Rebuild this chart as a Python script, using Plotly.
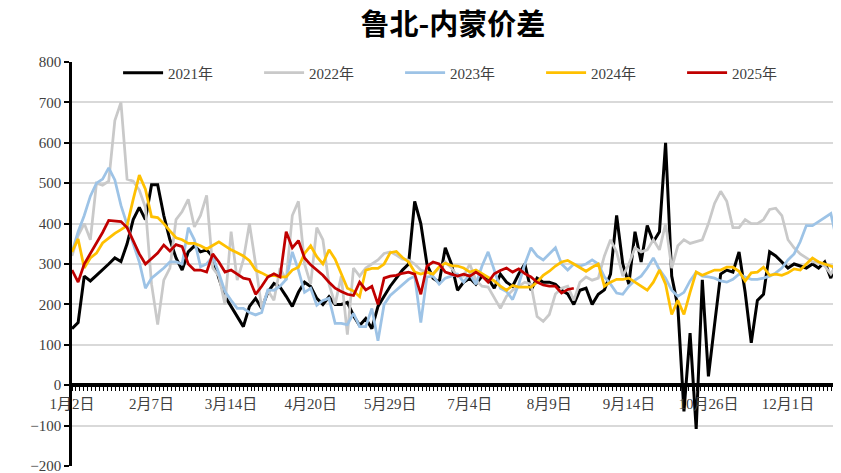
import plotly.graph_objects as go

# ---------------- data ----------------
tick_labels = ["1月2日", "2月7日", "3月14日", "4月20日", "5月29日",
               "7月4日", "8月9日", "9月14日", "10月26日", "12月1日"]
tick_days = [0, 26, 52, 78, 104, 130, 156, 182, 208, 234]
step_days = 2  # one reading every two trading days

y2021 = [140, 155, 270, 258, 272, 285, 300, 315, 306, 350, 410, 440, 410, 496, 496, 420, 360, 315, 285, 330,
         345, 330, 335, 318, 265, 220, 195, 170, 145, 195, 215, 190, 230, 252, 243, 220, 195, 230, 255, 244,
         215, 200, 219, 200, 200, 205, 172, 148, 165, 140, 195, 220, 245, 265, 285, 300, 455, 400, 300, 265,
         255, 340, 300, 235, 255, 265, 250, 270, 265, 240, 275, 255, 245, 275, 300, 235, 265, 255, 255, 250,
         235, 226, 200, 235, 240, 200, 225, 236, 275, 420, 300, 250, 380, 305, 395, 355, 380, 600, 270, 195,
         -65, 129, -108, 261, 22, 150, 275, 285, 280, 330, 230, 105, 210, 225, 330, 320, 305, 290, 300, 295,
         290, 300, 290, 305, 265, 310]
y2022 = [320, 370, 400, 360, 500, 495, 505, 655, 700, 510, 505, 483, 440, 250, 150, 260, 290, 410, 430, 460,
         392, 420, 470, 290, 270, 200, 380, 260, 310, 400, 300, 190, 235, 210, 290, 260, 420, 455, 300, 250,
         390, 360, 250, 200, 270, 125, 290, 270, 290, 300, 310, 326, 330, 322, 312, 310, 300, 285, 280, 275,
         290, 305, 290, 270, 270, 300, 260, 245, 243, 215, 190, 220, 235, 245, 255, 250, 170, 158, 175, 226,
         240, 245, 210, 255, 268, 260, 265, 320, 360, 330, 270, 300, 340, 330, 335, 360, 335, 400, 290, 345,
         360, 351, 355, 360, 400, 450, 480, 455, 390, 390, 410, 400, 400, 410, 435, 438, 420, 360, 340, 325,
         315, 305, 305, 295, 275, 300]
y2023 = [330, 380, 420, 468, 500, 510, 538, 508, 445, 395, 350, 305, 240, 265, 277, 290, 305, 305, 300, 390,
         360, 293, 300, 318, 277, 232, 210, 190, 190, 180, 174, 180, 236, 235, 245, 262, 330, 285, 230, 240,
         198, 210, 215, 153, 153, 150, 178, 145, 145, 190, 110, 200, 222, 236, 248, 262, 270, 155, 268, 270,
         250, 265, 270, 275, 255, 275, 250, 295, 330, 285, 240, 232, 212, 250, 300, 340, 320, 310, 325, 340,
         300, 285, 300, 295, 300, 310, 300, 268, 250, 228, 225, 245, 260, 270, 290, 315, 286, 265, 235, 220,
         230, 258, 280, 270, 268, 265, 258, 255, 262, 275, 268, 262, 262, 265, 270, 278, 290, 310, 325, 355,
         395, 395, 405, 415, 425, 355]
y2024 = [330, 362, 290, 315, 327, 352, 364, 376, 385, 395, 460, 520, 485, 417, 415, 400, 382, 365, 360, 351,
         351, 345, 337, 345, 355, 345, 335, 328, 320, 308, 285, 278, 270, 272, 268, 268, 285, 292, 326, 345,
         318, 300, 335, 312, 275, 240, 233, 219, 285, 289, 289, 300, 328, 331, 316, 305, 280, 275, 280, 275,
         293, 302, 296, 295, 290, 280, 285, 276, 268, 258, 245, 235, 247, 243, 243, 243, 255, 272, 282, 295,
         305, 309, 300, 290, 282, 292, 300, 245, 255, 262, 262, 265, 255, 243, 235, 255, 285, 250, 175, 210,
         175, 230, 280, 272, 278, 285, 285, 292, 292, 282, 258, 278, 280, 292, 272, 275, 272, 278, 288, 285,
         300, 315, 305, 300, 295, 290]
y2025 = [285, 255, 300, 325, 350, 378, 408, 406, 405, 390, 356, 325, 300, 314, 327, 347, 332, 348, 343, 300,
         285, 285, 280, 325, 305, 280, 285, 275, 265, 262, 225, 245, 268, 276, 268, 380, 340, 358, 315, 298,
         285, 272, 255, 240, 232, 225, 222, 255, 236, 245, 200, 265, 270, 272, 277, 280, 275, 225, 295, 305,
         300, 280, 275, 270, 275, 270, 280, 270, 255, 276, 284, 290, 280, 288, 276, 268, 255, 248, 245, 245,
         228, 237, 240]

series = [
    ("2021年", y2021, "#000000", 3.0),
    ("2022年", y2022, "#C9C9C9", 2.75),
    ("2023年", y2023, "#9DC3E6", 2.75),
    ("2024年", y2024, "#FFC000", 2.75),
    ("2025年", y2025, "#C00000", 2.75),
]

# ---------------- figure ----------------
fig = go.Figure()
for name, vals, color, width in series:
    fig.add_trace(go.Scatter(
        x=[i * step_days for i in range(len(vals))],
        y=vals,
        mode="lines",
        name=name,
        line=dict(color=color, width=width),
    ))

serif = "Liberation Serif, Noto Sans CJK SC, serif"

# the page body adds an 8px offset, so the figure is 8px smaller than the window
fig.update_layout(
    width=833, height=465,
    margin=dict(l=64, r=1, t=54, b=7, autoexpand=False),
    plot_bgcolor="white", paper_bgcolor="white",
    title=dict(text="<b>鲁北-内蒙价差</b>", x=0.534, xanchor="center",
               y=0.9635, yanchor="middle", yref="container",
               font=dict(family="Noto Sans CJK SC", size=29, color="#000000")),
    legend=dict(orientation="h", x=0.06, xanchor="left", y=0.973, yanchor="middle",
                bgcolor="rgba(0,0,0,0)", entrywidth=86, entrywidthmode="pixels",
                font=dict(family=serif, size=15, color="#404040"),
                itemwidth=40, traceorder="normal"),
    showlegend=True,
    hovermode=False,
)

fig.update_yaxes(
    range=[-200, 800], dtick=100, tick0=0,
    showgrid=True, gridcolor="#D9D9D9", gridwidth=1.5,
    zeroline=False,
    showline=True, linecolor="#000000", linewidth=2.5,
    ticks="outside", ticklen=5, tickwidth=2, tickcolor="#000000",
    ticklabeloverflow="allow",
    tickfont=dict(family=serif, size=15, color="#404040"),
)

fig.update_xaxes(
    range=[0, 251],
    anchor="free", position=0.2,
    tickmode="array", tickvals=tick_days, ticktext=tick_labels,
    showgrid=False, zeroline=False,
    showline=True, linecolor="#000000", linewidth=3.5,
    ticks="outside", ticklen=4, tickwidth=1, tickcolor="#000000",
    minor=dict(tickmode="linear", tick0=0, dtick=1.3, ticks="outside",
               ticklen=4, tickwidth=1, tickcolor="#000000", showgrid=False),
    tickfont=dict(family=serif, size=15, color="#404040"),
)

fig.write_html("out.html")
